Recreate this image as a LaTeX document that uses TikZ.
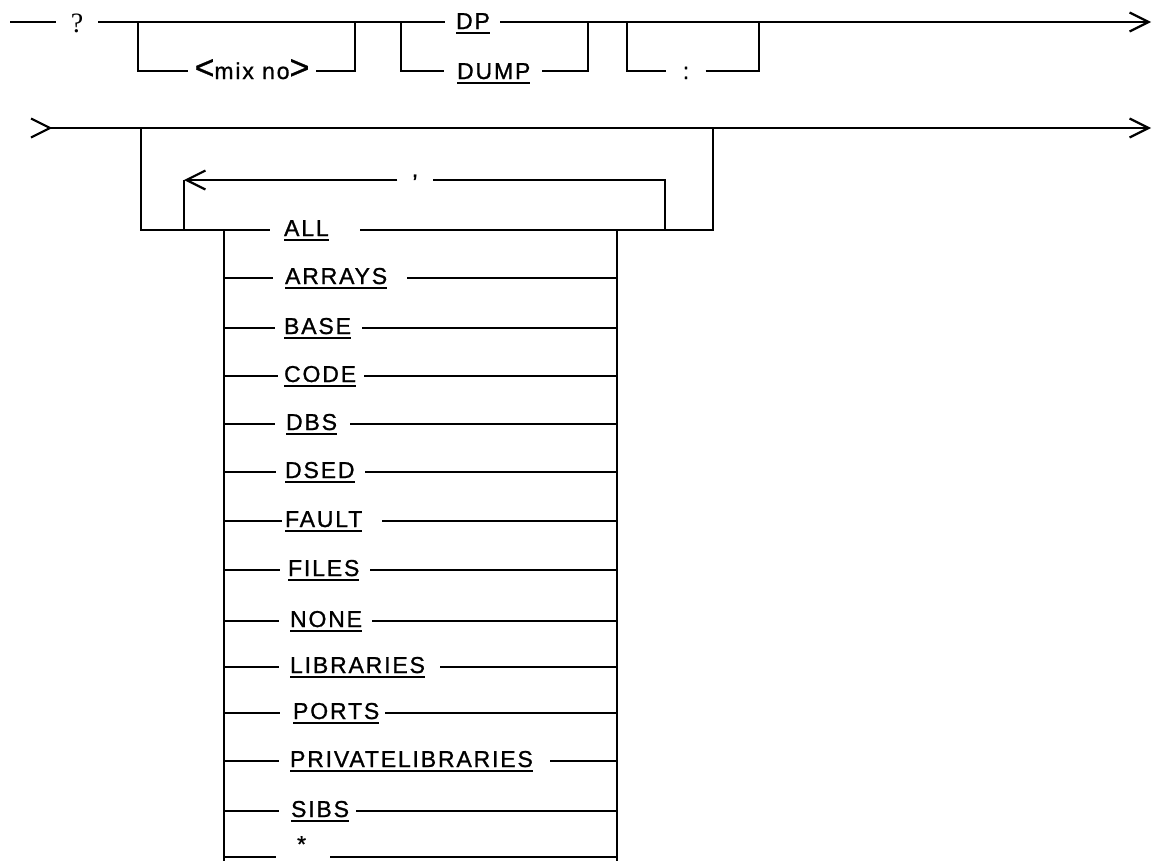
\documentclass[tikz,border=0pt]{standalone}
\usepackage{fontspec}
\newfontfamily\lab{Liberation Sans}[LetterSpace=8.0,FakeBold=1]
\newfontfamily\serq{Liberation Serif}
\usetikzlibrary{arrows.meta}
\newcommand\ulw[1]{\setbox0=\hbox{#1}\rlap{\rule[-5pt]{\wd0}{2pt}}\box0}
\tikzset{
  every node/.style={inner sep=0pt},
  lbl/.style={font=\fontsize{23}{26}\selectfont\lab},
  qm/.style={font=\fontsize{28}{30}\selectfont\serq},
  rail/.style={line width=2.2pt},
  endarrow/.style={-{Straight Barb[length=19pt,width=19pt]}},
}
\begin{document}
\begin{tikzpicture}[x=1pt,y=-1pt,rail,line cap=butt]
\useasboundingbox (0,0) rectangle (1152,860);
\clip (0,0) rectangle (1152,860);
% ---------- row 1 ----------
\coordinate (a0) at (10,22);
\coordinate (e1) at (1151,22);
\coordinate (m1) at (138,22);  \coordinate (m1b) at (138,71);
\coordinate (m2) at (355,22);  \coordinate (m2b) at (355,71);
\coordinate (d1) at (401,22);  \coordinate (d1b) at (401,71);
\coordinate (d2) at (588,22);  \coordinate (d2b) at (588,71);
\coordinate (c1) at (627,22);  \coordinate (c1b) at (627,71);
\coordinate (c2) at (759,22);  \coordinate (c2b) at (759,71);
\node[qm,anchor=base] (q) at (77,32) {\makebox[40pt]{?}};
\node[lbl,anchor=base] (mix) at (252,79) {\makebox[126pt]{{\fontsize{34}{34}\selectfont<}mix no{\fontsize{34}{34}\selectfont>}}};
\node[lbl,anchor=base west] (dp) at (445,29) {\makebox[53pt][l]{\hspace{10pt}\ulw{DP}}};
\node[lbl,anchor=base west] (dump) at (444,79) {\makebox[96pt][l]{\hspace{12pt}\ulw{DUMP}}};
\node[lbl,anchor=base] (col) at (686,79) {\makebox[37pt]{:}};
\draw (a0) -- (a0 -| q.west);
\draw (q.east |- a0) -- (dp.west |- a0);
\draw[endarrow] (dp.east |- a0) -- (e1);
\draw (m1) -- (m1b) -- (m1b -| mix.west);
\draw (mix.east |- m1b) -- (m2b) -- (m2);
\draw (d1) -- (d1b) -- (d1b -| dump.west);
\draw (dump.east |- d1b) -- (d2b) -- (d2);
\draw (c1) -- (c1b) -- (c1b -| col.west);
\draw (col.east |- c1b) -- (c2b) -- (c2);
% ---------- row 2 ----------
\coordinate (r0) at (50,128);
\coordinate (r1) at (1151,128);
\draw (31,118.5) -- (r0) -- (31,137.5);
\draw[endarrow] (r0) -- (r1);
\coordinate (o1) at (141,128); \coordinate (o1b) at (141,230);
\coordinate (o2) at (713,128); \coordinate (o2b) at (713,230);
\node[lbl,anchor=base west] (tALL) at (270,236) {\makebox[88pt][l]{\hspace{13pt}\ulw{ALL}}};
\draw (o1) -- (o1b) -- (o1b -| tALL.west);
\draw (tALL.east |- o1b) -- (o2b) -- (o2);
% repeat loop
\coordinate (l1) at (184,230); \coordinate (l1t) at (184,180);
\coordinate (l2) at (665,230); \coordinate (l2t) at (665,180);
\node[lbl,anchor=base] (cm) at (415,177) {\makebox[33pt]{,}};
\draw (l2) -- (l2t) -- (l2t -| cm.east);
\draw[endarrow] (cm.west |- l2t) -- (l1t);
\draw (l1t) -- (l1);
% choice verticals
\coordinate (v1t) at (224,230); \coordinate (v1b) at (224,880);
\coordinate (v2t) at (617,230); \coordinate (v2b) at (617,880);
\draw (v1t) -- (v1b);
\draw (v2t) -- (v2b);
% choice rows
\foreach \nm/\yy/\tx/\le/\re/\txt in {
  ARR/278/284/273/405/ARRAYS,
  BAS/328/283/275/360/BASE,
  COD/376/283/278/362/CODE,
  DBS/424/285/275/348/DBS,
  DSE/472/284/276/363/DSED,
  FAU/521/284/282/380/FAULT,
  FIL/570/287/280/368/FILES,
  NON/621/289/279/370/NONE,
  LIB/667/289/279/438/LIBRARIES,
  POR/713/292/280/383/PORTS,
  PRI/761/289/279/548/PRIVATELIBRARIES,
  SIB/811/290/279/354/SIBS}{
  \pgfmathsetmacro\ww{\re-\le}
  \pgfmathsetmacro\gg{\tx-\le}
  \pgfmathsetmacro\bl{\yy+6}
  \coordinate (L\nm) at (224,\yy);
  \coordinate (R\nm) at (617,\yy);
  \node[lbl,anchor=base west] (t\nm) at (\le,\bl) {\makebox[\ww pt][l]{\hspace{\gg pt}\ulw{\txt}}};
  \draw (L\nm) -- (L\nm -| t\nm.west);
  \draw (t\nm.east |- L\nm) -- (R\nm);
}
% last row (at the page edge)
\coordinate (Last) at (224,857); \coordinate (Rlast) at (617,857);
\node[lbl,anchor=base west] (tAst) at (276,852) {\makebox[52pt][l]{\hspace{20pt}*}};
\draw (Last) -- (Last -| tAst.west);
\draw (tAst.east |- Last) -- (Rlast);
\end{tikzpicture}
\end{document}
